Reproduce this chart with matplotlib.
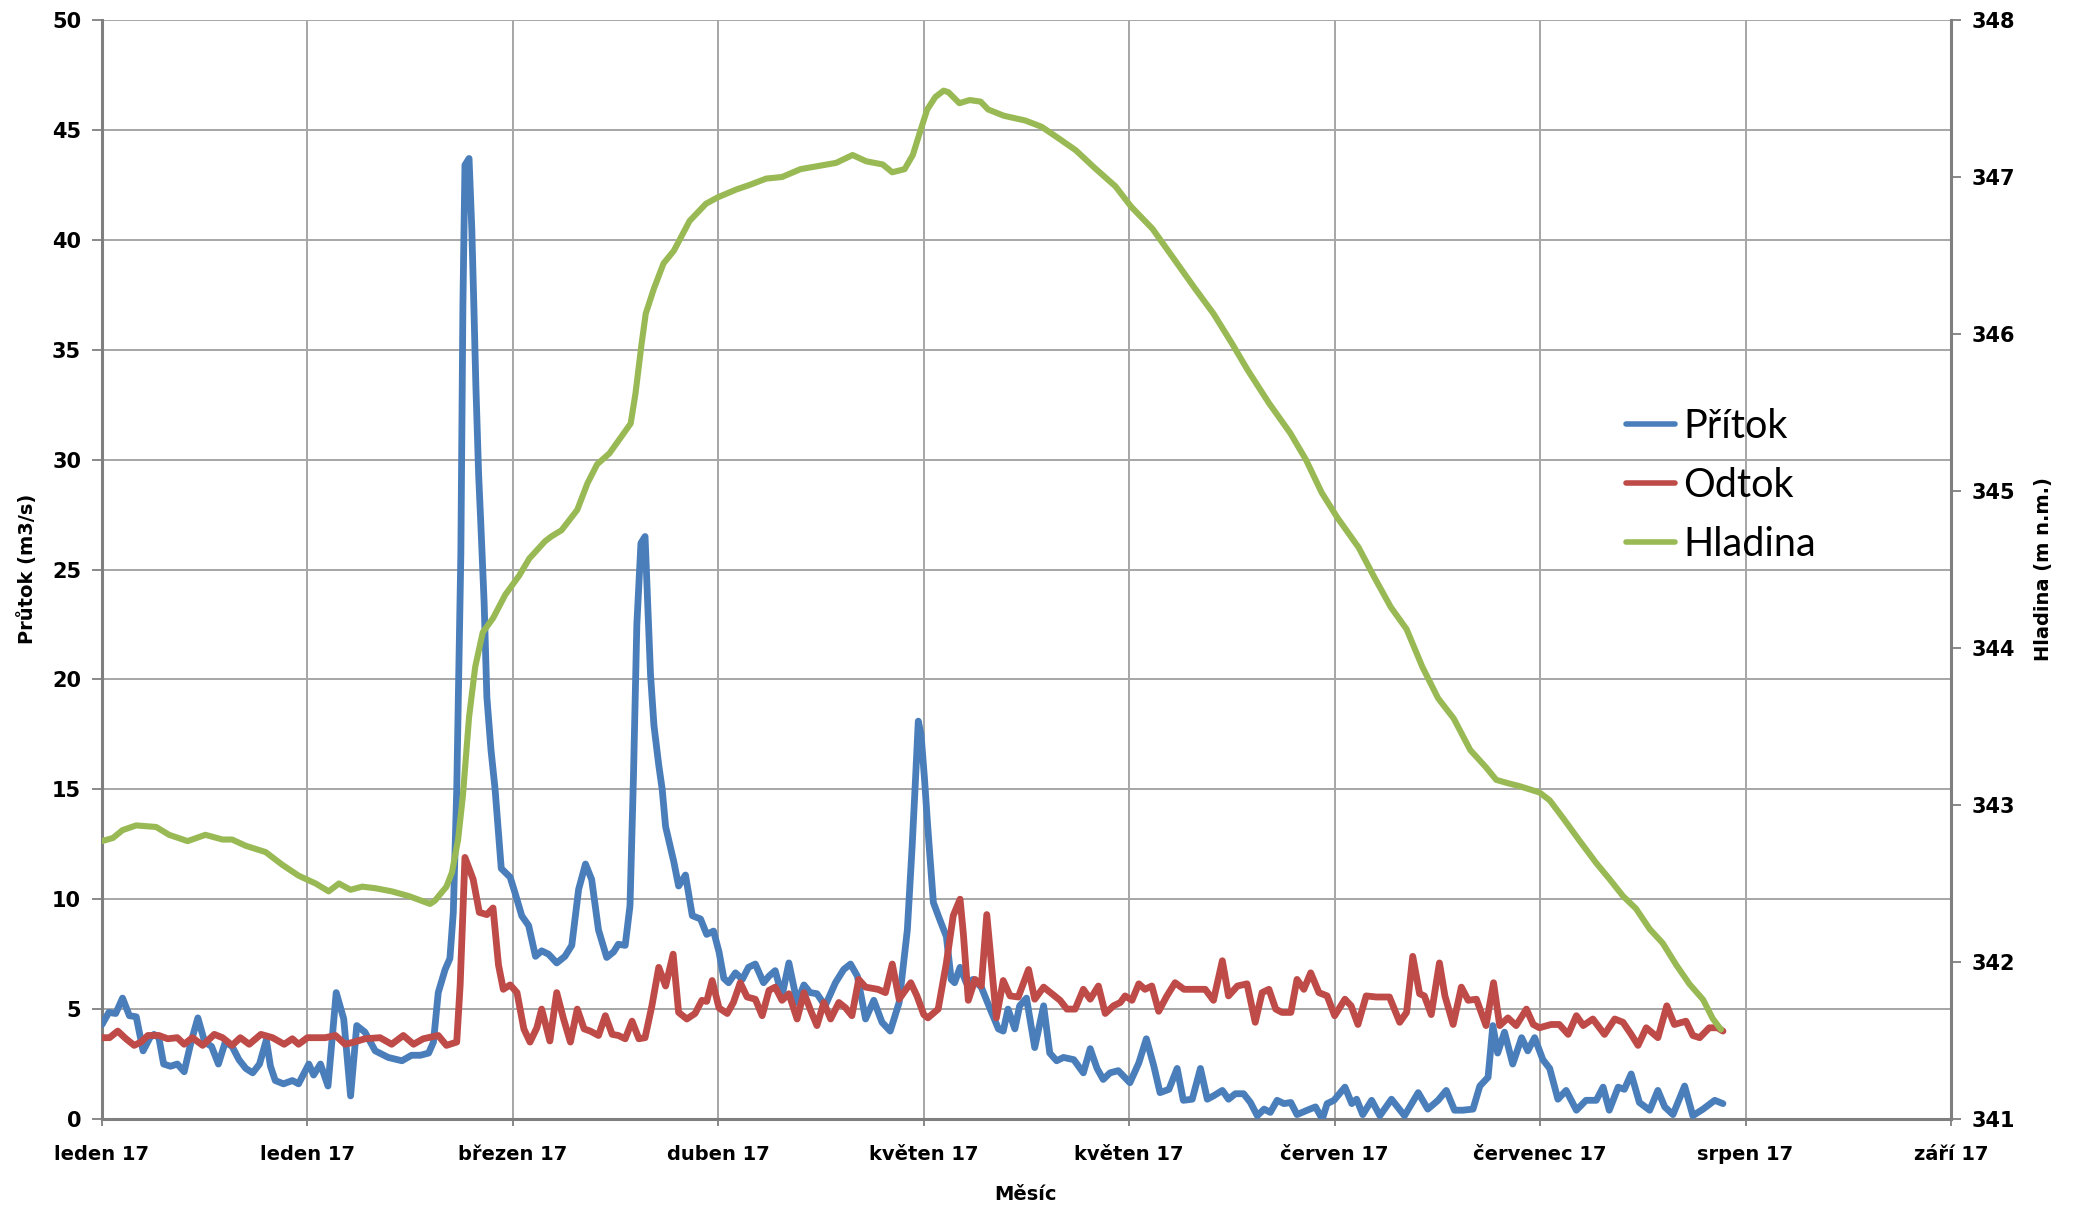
import matplotlib
matplotlib.use("Agg")
import matplotlib.pyplot as plt

# ---------------- data (day index from 1 Jan 2017) ----------------
prutok_days = [0, 1, 2, 3, 4, 5, 6, 7, 7.6, 8.3, 9, 10, 11, 12, 13, 14, 15, 16, 17, 18, 19, 20, 21, 22, 23, 24,
               24.6, 25.3, 26.5, 27.8, 28.7, 30.2, 30.9, 31.9, 33, 34.2, 35.3, 36.3, 37.2, 38.4, 39.9, 41.8,
               43.8, 45.2, 46.5, 47.7, 48.4, 49.1, 50.1, 50.8, 51.3, 51.8, 52.4, 52.7, 53.0, 53.6, 54.0, 54.3,
               54.6, 55.0, 55.3, 55.8, 56.2, 56.8, 57.4, 58.3, 59.6, 60.3, 61.3, 62.3, 63.3, 64.2, 65.2, 66.4,
               67.6, 68.6, 69.6, 70.6, 71.5, 72.5, 73.7, 74.7, 75.4, 76.4, 77.1, 77.6, 78.1, 78.7, 79.3, 79.7,
               80.1, 80.6, 81.3, 81.8, 82.3, 83.5, 84.2, 85.2, 86.2, 87.4, 88.3, 89.3, 90.1, 90.8, 91.5, 92.5,
               93.5, 94.4, 95.4, 96.6, 97.4, 98.3, 99.3, 100.3, 101.5, 102.5, 103.4, 104.4, 105.6, 107.1,
               108.3, 109.3, 110.3, 111.5, 112.7, 113.9, 115.1, 116.4, 117.6, 118.3, 118.8, 119.2, 119.6,
               120.1, 120.6, 121.4, 122.3, 123.3, 124.0, 124.5, 125.3, 126.2, 127.2, 128.4, 129.7, 130.9,
               131.6, 132.3, 133.3, 134.0, 135.0, 136.2, 137.5, 138.4, 139.4, 140.4, 141.9, 143.3, 144.3,
               145.3, 146.2, 147.2, 148.4, 150.1, 151.4, 152.5, 153.6, 154.5, 155.8, 157.0, 157.9, 159.2,
               160.4, 161.4, 162.3, 163.6, 164.5, 165.5, 166.7, 167.7, 168.7, 169.7, 170.6, 171.6, 172.6,
               173.6, 174.5, 176.0, 177.2, 178.2, 178.9, 179.9, 181.5, 182.5, 183.2, 184.1, 185.4, 186.6,
               188.3, 190.2, 192.2, 193.6, 195.1, 196.3, 197.5, 198.7, 200.2, 201.2, 202.4, 203.1, 203.8,
               204.8, 206.0, 207.3, 208.2, 209.2, 210.4, 211.4, 212.6, 213.8, 215.3, 216.7, 218.2, 219.2,
               220.1, 221.4, 222.3, 223.3, 224.5, 226.0, 227.2, 228.2, 229.4, 231.1, 232.3, 233.8, 235.5,
               236.7]
prutok = [4.3, 4.85, 4.8, 5.5, 4.7, 4.65, 3.1, 3.7, 3.85, 3.7, 2.5, 2.4, 2.5, 2.15, 3.5, 4.6, 3.5, 3.3, 2.5,
          3.5, 3.3, 2.7, 2.3, 2.1, 2.5, 3.6, 2.4, 1.75, 1.6, 1.75, 1.6, 2.5, 2.0, 2.5, 1.5, 5.75, 4.55, 1.05,
          4.25, 3.95, 3.1, 2.8, 2.65, 2.9, 2.9, 3.0, 3.5, 5.75, 6.8, 7.3, 9.4, 15.0, 25.7, 37.0, 43.4, 43.7,
          40.5, 37.0, 33.3, 29.3, 27.2, 23.5, 19.2, 16.8, 15.0, 11.4, 11.0, 10.3, 9.24, 8.8, 7.4, 7.65, 7.5,
          7.1, 7.4, 7.9, 10.45, 11.6, 10.9, 8.6, 7.35, 7.6, 7.95, 7.9, 9.7, 15.5, 22.5, 26.2, 26.5, 23.3,
          20.2, 17.9, 16.1, 15.0, 13.3, 11.7, 10.6, 11.1, 9.25, 9.1, 8.4, 8.55, 7.6, 6.4, 6.2, 6.65, 6.35,
          6.9, 7.05, 6.2, 6.5, 6.75, 5.6, 7.1, 5.3, 6.1, 5.75, 5.7, 5.15, 6.2, 6.8, 7.05, 6.5, 4.55, 5.4,
          4.4, 4.0, 5.3, 8.6, 12.4, 15.5, 18.1, 17.5, 15.5, 13.2, 9.85, 9.1, 8.3, 6.35, 6.2, 6.9, 6.2, 6.35,
          6.0, 5.0, 4.1, 4.0, 5.0, 4.1, 5.15, 5.5, 3.25, 5.15, 3.0, 2.65, 2.8, 2.7, 2.1, 3.2, 2.3, 1.8, 2.1,
          2.2, 1.65, 2.55, 3.65, 2.4, 1.2, 1.35, 2.3, 0.85, 0.9, 2.3, 0.9, 1.05, 1.3, 0.9, 1.15, 1.15, 0.75,
          0.15, 0.45, 0.3, 0.85, 0.7, 0.75, 0.2, 0.4, 0.55, 0.0, 0.7, 0.85, 1.45, 0.7, 0.9, 0.2, 0.85, 0.15,
          0.9, 0.15, 1.2, 0.45, 0.85, 1.3, 0.4, 0.4, 0.45, 1.5, 1.9, 4.25, 3.0, 3.95, 2.5, 3.7, 3.1, 3.7,
          2.7, 2.3, 0.9, 1.3, 0.4, 0.85, 0.85, 1.45, 0.4, 1.45, 1.35, 2.05, 0.75, 0.4, 1.3, 0.55, 0.2, 1.5,
          0.15, 0.45, 0.85, 0.7]

odtok_days = [0, 1.1, 2.3, 3.5, 4.7, 5.7, 6.7, 8.3, 9.6, 11, 12, 13.2, 14.7, 16.4, 17.6, 19, 20.2, 21.5, 23.2,
              24.9, 26.6, 27.8, 28.7, 30, 32.6, 34.1, 35.5, 36.8, 38.4, 40.6, 42.3, 44, 45.5, 46.9, 49.1,
              50.3, 51.8, 52.3, 53, 54.2, 55.1, 56.2, 57.1, 57.9, 58.6, 59.6, 60.6, 61.6, 62.5, 63.5, 64.2,
              65.4, 66.4, 67.4, 68.4, 69.4, 70.4, 71.3, 72.5, 73.5, 74.5, 75.4, 76.4, 77.4, 78.4, 79.3, 80.3,
              81.3, 82.3, 83.4, 84.2, 85.4, 86.6, 87.6, 88.3, 89.1, 90.1, 91.3, 92.2, 93.2, 94.2, 95.4, 96.4,
              97.4, 98.3, 99.3, 100.3, 101.5, 102.5, 103.4, 104.4, 105.4, 106.4, 107.6, 108.6, 109.5, 110.5,
              111.5, 113.3, 114.4, 115.4, 116.4, 118.1, 119.0, 120.0, 120.6, 122.1, 123.3, 124.3, 125.3,
              125.8, 126.5, 127.5, 128.4, 129.2, 129.9, 130.6, 131.6, 132.6, 133.8, 135.3, 136.2, 137.5,
              138.7, 139.9, 140.9, 142.1, 143.3, 144.3, 145.5, 146.5, 147.7, 148.7, 149.4, 150.4, 151.4,
              152.3, 153.3, 154.3, 155.5, 156.7, 158.0, 159.9, 161.1, 162.3, 163.6, 164.5, 165.8, 167.2,
              168.4, 169.4, 170.4, 171.4, 172.3, 173.6, 174.5, 175.5, 176.5, 177.7, 178.9, 180.0, 181.5,
              182.4, 183.4, 184.6, 186.1, 188.0, 189.5, 190.5, 191.4, 192.4, 193.1, 194.1, 195.3, 196.1,
              197.3, 198.5, 199.5, 200.7, 202.1, 203.2, 204.1, 205.3, 206.5, 208.0, 209.0, 209.9, 211.6,
              212.8, 214.1, 215.3, 216.3, 217.7, 219.4, 220.9, 222.1, 223.3, 224.3, 225.5, 227.2, 228.5,
              229.6, 231.3, 232.3, 233.3, 234.7, 235.9, 236.7]
odtok = [3.7, 3.7, 4.0, 3.65, 3.35, 3.5, 3.8, 3.8, 3.65, 3.7, 3.4, 3.7, 3.35, 3.85, 3.7, 3.35, 3.7, 3.4, 3.85,
         3.7, 3.4, 3.65, 3.4, 3.7, 3.7, 3.8, 3.4, 3.5, 3.65, 3.7, 3.4, 3.8, 3.4, 3.65, 3.8, 3.35, 3.5, 6.1,
         11.9, 10.9, 9.4, 9.3, 9.6, 7.0, 5.9, 6.1, 5.75, 4.1, 3.5, 4.15, 5.0, 3.55, 5.75, 4.55, 3.5, 5.0, 4.1,
         4.0, 3.8, 4.7, 3.85, 3.8, 3.65, 4.45, 3.65, 3.7, 5.15, 6.9, 6.05, 7.5, 4.85, 4.55, 4.8, 5.4, 5.35,
         6.3, 5.05, 4.8, 5.3, 6.2, 5.55, 5.45, 4.7, 5.85, 6.0, 5.4, 5.7, 4.55, 5.75, 5.0, 4.25, 5.3, 4.55,
         5.3, 5.05, 4.7, 6.35, 6.0, 5.9, 5.75, 7.05, 5.45, 6.2, 5.6, 4.75, 4.6, 5.0, 7.1, 9.25, 10.0, 8.35,
         5.4, 6.35, 6.05, 9.3, 6.95, 4.6, 6.3, 5.6, 5.55, 6.8, 5.45, 6.0, 5.7, 5.4, 5.0, 5.0, 5.9, 5.45,
         6.05, 4.8, 5.15, 5.3, 5.6, 5.4, 6.15, 5.9, 6.05, 4.9, 5.6, 6.2, 5.9, 5.9, 5.9, 5.4, 7.2, 5.6, 6.05,
         6.15, 4.4, 5.75, 5.9, 5.0, 4.85, 4.85, 6.35, 5.9, 6.65, 5.75, 5.6, 4.7, 5.45, 5.15, 4.3, 5.6, 5.55,
         5.55, 4.4, 4.85, 7.4, 5.7, 5.6, 4.75, 7.1, 5.6, 4.3, 6.0, 5.4, 5.45, 4.25, 6.2, 4.25, 4.6, 4.25,
         5.0, 4.3, 4.15, 4.3, 4.3, 3.85, 4.7, 4.25, 4.55, 3.85, 4.55, 4.4, 3.85, 3.35, 4.15, 3.7, 5.15, 4.3,
         4.45, 3.8, 3.7, 4.15, 4.15, 4.0]

hladina_days = [0, 1.6, 3, 5, 7.9, 9.8, 12.5, 15.1, 17.6, 19, 21, 23.9, 26.3, 28.7, 31.2, 33.1, 34.6, 36.3,
                38, 39.9, 42.3, 44.8, 47.9, 48.6, 50.3, 51.1, 52.0, 52.7, 53.6, 54.5, 55.6, 57.1, 58.9,
                60.9, 62.4, 64.7, 65.6, 67.1, 69.4, 70.9, 72.3, 74.1, 75.9, 77.2, 77.9, 78.8, 79.4, 80.6,
                82.0, 83.5, 85.8, 88.2, 89.9, 92.6, 94.6, 97.0, 99.3, 102.0, 104.6, 107.2, 109.6, 111.6,
                114.0, 115.4, 117.2, 118.4, 119.4, 120.5, 121.7, 122.9, 123.6, 125.2, 126.7, 128.3, 129.4,
                131.7, 134.8, 137.2, 139.9, 142.2, 144.9, 148.0, 150.3, 153.4, 156.5, 159.6, 162.3, 165.0,
                167.3, 170.4, 173.5, 175.8, 178.1, 180.4, 183.5, 185.8, 188.2, 190.5, 192.8, 195.1, 197.4,
                199.8, 202.1, 203.6, 205.2, 207.0, 209.9, 211.4, 213.3, 215.8, 218.2, 220.1, 222.1, 224.0,
                226.0, 227.9, 229.9, 231.8, 233.8, 235.2, 236.4]
hladina = [342.77, 342.79, 342.84, 342.87, 342.86, 342.81, 342.77, 342.81, 342.78, 342.78, 342.74, 342.70,
           342.62, 342.55, 342.50, 342.45, 342.50, 342.46, 342.48, 342.47, 342.45, 342.42, 342.37, 342.39,
           342.48, 342.57, 342.78, 343.06, 343.56, 343.88, 344.10, 344.19, 344.34, 344.46, 344.57, 344.68,
           344.71, 344.75, 344.88, 345.05, 345.17, 345.24, 345.35, 345.43, 345.62, 345.94, 346.13, 346.29,
           346.45, 346.53, 346.72, 346.83, 346.87, 346.92, 346.95, 346.99, 347.00, 347.05, 347.07, 347.09,
           347.14, 347.10, 347.08, 347.03, 347.05, 347.14, 347.28, 347.43, 347.51, 347.55, 347.54, 347.47,
           347.49, 347.48, 347.43, 347.39, 347.36, 347.32, 347.24, 347.17, 347.06, 346.94, 346.81, 346.67,
           346.48, 346.29, 346.13, 345.94, 345.77, 345.56, 345.37, 345.20, 344.99, 344.83, 344.64, 344.45,
           344.26, 344.12, 343.88, 343.68, 343.55, 343.35, 343.24, 343.16, 343.14, 343.12, 343.08, 343.03,
           342.92, 342.77, 342.63, 342.53, 342.42, 342.34, 342.21, 342.12, 341.98, 341.86, 341.76, 341.64,
           341.57]

tick_days = [0, 30, 60, 90, 120, 150, 180, 210, 240, 270]
tick_labels = ["leden 17", "leden 17", "březen 17", "duben 17", "květen 17", "květen 17",
               "červen 17", "červenec 17", "srpen 17", "září 17"]
left_ticks = [0, 5, 10, 15, 20, 25, 30, 35, 40, 45, 50]
right_ticks = [341, 342, 343, 344, 345, 346, 347, 348]
series_names = ["Přítok", "Odtok", "Hladina"]

# ---------------- figure ----------------
plt.rcParams["font.family"] = ["DejaVu Sans"]
W, H = 2082, 1207
fig = plt.figure(figsize=(W / 100, H / 100), dpi=100)
L, R, T, B = 102, 1951, 20, 1119
ax = fig.add_axes([L / W, 1 - B / H, (R - L) / W, (B - T) / H])
ax2 = ax.twinx()

grid_c = "#a6a6a6"
axis_c = "#7f7f7f"

style = dict(solid_joinstyle="round", solid_capstyle="round")
l1, = ax.plot(prutok_days, prutok, color="#4A7EBB", lw=4.9, label=series_names[0], zorder=3, **style)
l2, = ax.plot(odtok_days, odtok, color="#BE4B48", lw=4.9, label=series_names[1], zorder=4, **style)
l3, = ax2.plot(hladina_days, hladina, color="#98B954", lw=4.4, label=series_names[2], zorder=5, **style)

ax.set_xlim(tick_days[0], tick_days[-1])
ax.set_ylim(left_ticks[0], left_ticks[-1])
ax2.set_ylim(right_ticks[0], right_ticks[-1])

ax.set_xticks(tick_days)
ax.set_xticklabels(tick_labels)
ax.set_yticks(left_ticks)
ax2.set_yticks(right_ticks)

ax.grid(True, color=grid_c, lw=1.4)
ax.set_axisbelow(True)

for s in ["top", "right"]:
    ax.spines[s].set_visible(False)
for s in ["left", "bottom"]:
    ax.spines[s].set_color(axis_c)
    ax.spines[s].set_linewidth(2.2)
for s in ["top", "left", "bottom"]:
    ax2.spines[s].set_visible(False)
ax2.spines["right"].set_color(axis_c)
ax2.spines["right"].set_linewidth(2.2)

ax.tick_params(axis="y", direction="out", length=7, width=1.3, color=axis_c, pad=8,
               labelsize=15)
ax.tick_params(axis="x", direction="out", length=5, width=1.3, color=axis_c, pad=14,
               labelsize=14)
ax2.tick_params(axis="y", direction="out", length=7, width=1.3, color=axis_c, pad=8,
                labelsize=15)
for lab in ax.get_xticklabels() + ax.get_yticklabels() + ax2.get_yticklabels():
    lab.set_fontweight("bold")

fig.text(27 / W, 1 - 569 / H, "Průtok (m3/s)", rotation=90, ha="center", va="center",
         fontsize=14, fontweight="bold")
fig.text(2044 / W, 1 - 569 / H, "Hladina (m n.m.)", rotation=90, ha="center", va="center",
         fontsize=14, fontweight="bold")
fig.text(1026 / W, 1 - 1194 / H, "Měsíc", ha="center", va="center",
         fontsize=14, fontweight="bold")

leg = fig.legend([l1, l2, l3], series_names, loc="upper left",
                 bbox_to_anchor=(1626 / W, 1 - 408 / H), frameon=False,
                 prop={"family": "Lato", "size": 28.5}, handlelength=1.25, handletextpad=0.2,
                 labelspacing=0.56, borderpad=0, borderaxespad=0)
for h in leg.get_lines():
    h.set_linewidth(4.0)

fig.savefig("out.png", dpi=100)
